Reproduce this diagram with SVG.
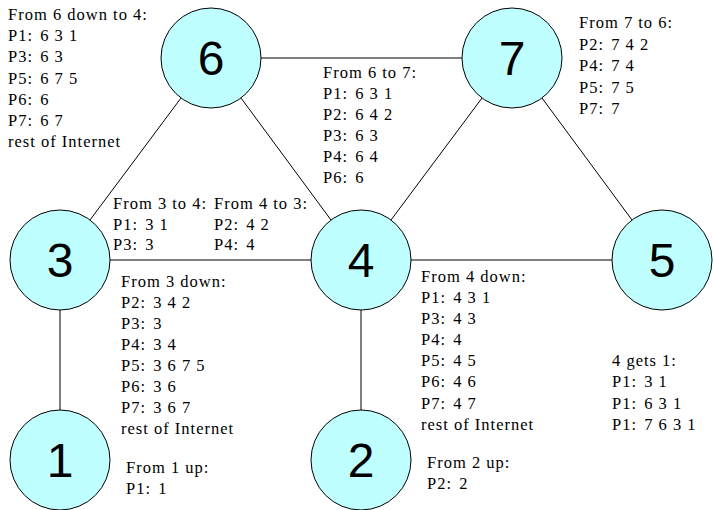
<svg xmlns="http://www.w3.org/2000/svg" width="713" height="510" viewBox="0 0 713 510">
<style>
.n{fill:#c0ffff;stroke:#000;stroke-width:1}
.num{font-family:"Liberation Sans",Arial,sans-serif;font-size:48px;text-anchor:middle;fill:#000}
.t{font-family:"Liberation Serif","Times New Roman",serif;font-size:16.5px;letter-spacing:1px;fill:#000}
.e{stroke:#000;stroke-width:1;fill:none}
</style>
<rect width="713" height="510" fill="#fff"/>
<g id="connectors">
<line class="e" x1="261" y1="58" x2="462" y2="58"/>
<line class="e" x1="90" y1="220" x2="181" y2="98"/>
<line class="e" x1="241" y1="98" x2="331" y2="220"/>
<line class="e" x1="482" y1="98" x2="391" y2="220"/>
<line class="e" x1="542" y1="98" x2="632" y2="220"/>
<line class="e" x1="110" y1="260" x2="311" y2="260"/>
<line class="e" x1="411" y1="260" x2="612" y2="260"/>
<line class="e" x1="60" y1="310" x2="60" y2="410"/>
<line class="e" x1="361" y1="310" x2="361" y2="410"/>
</g>
<g id="node6"><circle class="n" cx="211" cy="58" r="50"/><text class="num" x="211" y="75">6</text></g>
<g id="node7"><circle class="n" cx="512" cy="58" r="50"/><text class="num" x="512" y="75">7</text></g>
<g id="node3"><circle class="n" cx="60" cy="260" r="50"/><text class="num" x="60" y="277">3</text></g>
<g id="node4"><circle class="n" cx="361" cy="260" r="50"/><text class="num" x="361" y="277">4</text></g>
<g id="node5"><circle class="n" cx="662" cy="260" r="50"/><text class="num" x="662" y="277">5</text></g>
<g id="node1"><circle class="n" cx="60" cy="460" r="50"/><text class="num" x="60" y="477">1</text></g>
<g id="node2"><circle class="n" cx="361" cy="460" r="50"/><text class="num" x="361" y="477">2</text></g>
<g id="labels">
<text class="t" x="8" y="20">From 6 down to 4:</text>
<text class="t" x="8" y="41">P1: <tspan dx="2">6 3 1</tspan></text>
<text class="t" x="8" y="62">P3: <tspan dx="2">6 3</tspan></text>
<text class="t" x="8" y="84">P5: <tspan dx="2">6 7 5</tspan></text>
<text class="t" x="8" y="105">P6: <tspan dx="2">6</tspan></text>
<text class="t" x="8" y="126">P7: <tspan dx="2">6 7</tspan></text>
<text class="t" x="8" y="147">rest of Internet</text>

<text class="t" x="323" y="78">From 6 to 7:</text>
<text class="t" x="323" y="99">P1: <tspan dx="2">6 3 1</tspan></text>
<text class="t" x="323" y="120">P2: <tspan dx="2">6 4 2</tspan></text>
<text class="t" x="323" y="141">P3: <tspan dx="2">6 3</tspan></text>
<text class="t" x="323" y="162">P4: <tspan dx="2">6 4</tspan></text>
<text class="t" x="323" y="183">P6: <tspan dx="2">6</tspan></text>

<text class="t" x="579" y="28">From 7 to 6:</text>
<text class="t" x="579" y="50">P2: <tspan dx="2">7 4 2</tspan></text>
<text class="t" x="579" y="71">P4: <tspan dx="2">7 4</tspan></text>
<text class="t" x="579" y="93">P5: <tspan dx="2">7 5</tspan></text>
<text class="t" x="579" y="114">P7: <tspan dx="2">7</tspan></text>

<text class="t" x="113" y="209">From 3 to 4:</text>
<text class="t" x="113" y="230">P1: <tspan dx="2">3 1</tspan></text>
<text class="t" x="113" y="250">P3: <tspan dx="2">3</tspan></text>

<text class="t" x="214" y="209">From 4 to 3:</text>
<text class="t" x="214" y="230">P2: <tspan dx="2">4 2</tspan></text>
<text class="t" x="214" y="250">P4: <tspan dx="2">4</tspan></text>

<text class="t" x="121" y="287">From 3 down:</text>
<text class="t" x="121" y="308">P2: <tspan dx="2">3 4 2</tspan></text>
<text class="t" x="121" y="329">P3: <tspan dx="2">3</tspan></text>
<text class="t" x="121" y="350">P4: <tspan dx="2">3 4</tspan></text>
<text class="t" x="121" y="371">P5: <tspan dx="2">3 6 7 5</tspan></text>
<text class="t" x="121" y="392">P6: <tspan dx="2">3 6</tspan></text>
<text class="t" x="121" y="413">P7: <tspan dx="2">3 6 7</tspan></text>
<text class="t" x="121" y="434">rest of Internet</text>

<text class="t" x="421" y="282">From 4 down:</text>
<text class="t" x="421" y="303">P1: <tspan dx="2">4 3 1</tspan></text>
<text class="t" x="421" y="324">P3: <tspan dx="2">4 3</tspan></text>
<text class="t" x="421" y="345">P4: <tspan dx="2">4</tspan></text>
<text class="t" x="421" y="366">P5: <tspan dx="2">4 5</tspan></text>
<text class="t" x="421" y="387">P6: <tspan dx="2">4 6</tspan></text>
<text class="t" x="421" y="409">P7: <tspan dx="2">4 7</tspan></text>
<text class="t" x="421" y="430">rest of Internet</text>

<text class="t" x="612" y="366">4 gets 1:</text>
<text class="t" x="612" y="387">P1: <tspan dx="2">3 1</tspan></text>
<text class="t" x="612" y="409">P1: <tspan dx="2">6 3 1</tspan></text>
<text class="t" x="612" y="430">P1: <tspan dx="2">7 6 3 1</tspan></text>

<text class="t" x="126" y="473">From 1 up:</text>
<text class="t" x="126" y="494">P1: <tspan dx="2">1</tspan></text>

<text class="t" x="427" y="468">From 2 up:</text>
<text class="t" x="427" y="489">P2: <tspan dx="2">2</tspan></text>
</g>
</svg>
